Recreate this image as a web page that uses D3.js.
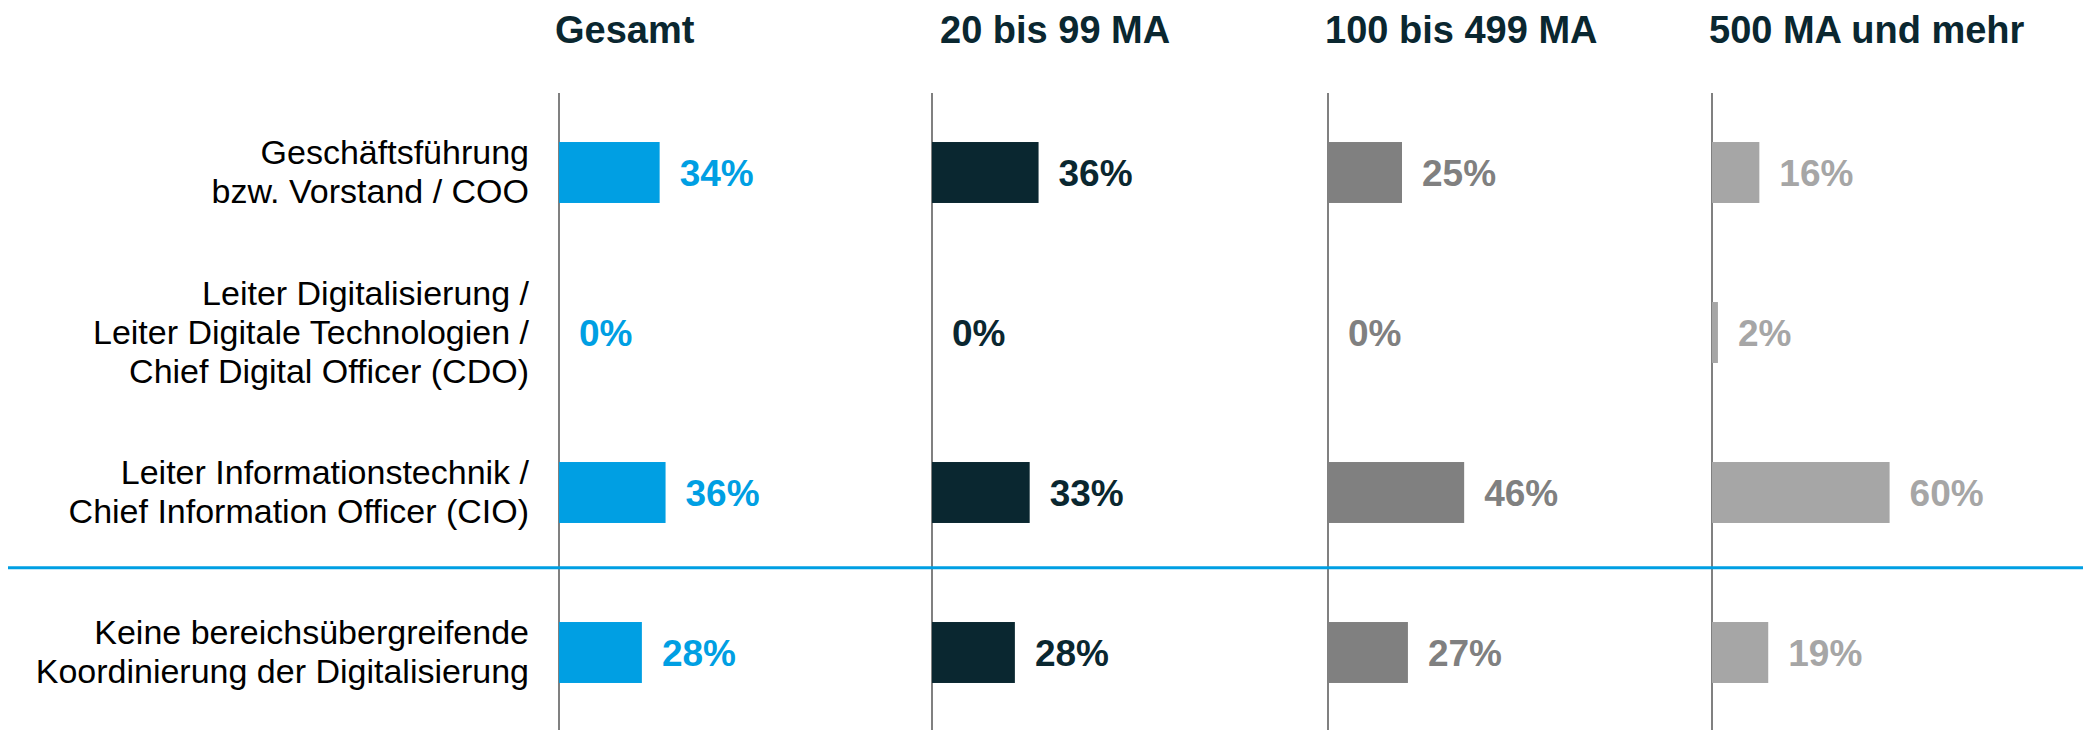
<!DOCTYPE html>
<html>
<head>
<meta charset="utf-8">
<script src="https://cdn.jsdelivr.net/npm/d3@7"></script>
<style>
  html, body { margin: 0; padding: 0; background: #fff; }
  svg { display: block; font-family: "Liberation Sans", Arial, sans-serif; }
</style>
</head>
<body>
<div id="main"></div>
<script>
const ctx = {
    w: 2083,
    h: 730,
};

// rows (label lines)
const categories = [
    ["Geschäftsführung", "bzw. Vorstand / COO"],
    ["Leiter Digitalisierung /", "Leiter Digitale Technologien /", "Chief Digital Officer (CDO)"],
    ["Leiter Informationstechnik /", "Chief Information Officer (CIO)"],
    ["Keine bereichsübergreifende", "Koordinierung der Digitalisierung"],
];

const groups = ["Gesamt", "20 bis 99 MA", "100 bis 499 MA", "500 MA und mehr"];

// percent values per group, same order as categories
const valGesamt = [34, 0, 36, 28];
const val20to99 = [36, 0, 33, 28];
const val100to499 = [25, 0, 46, 27];
const val500plus = [16, 2, 60, 19];

const groupColors = ["#009fe3", "#0a2730", "#808080", "#a6a6a6"];

function createChart(svg) {
    const series = [valGesamt, val20to99, val100to499, val500plus];
    const catIds = categories.map((c, i) => i);

    let x0 = d3.scaleOrdinal().domain(groups).range([559, 932, 1328, 1712]);
    let hx = d3.scaleOrdinal().domain(groups).range([555, 940, 1325, 1709]);
    let x = d3.scaleLinear().domain([0, 100]).range([0, 296]);
    let y = d3.scaleBand().domain(catIds).range([92.5, 732.5])
        .paddingInner(0.619).paddingOuter(0.3095);
    let color = d3.scaleOrdinal().domain(groups).range(groupColors);
    const mid = i => y(i) + y.bandwidth() / 2;

    // group headers
    svg.selectAll(".head")
        .data(groups)
        .enter().append("text")
        .attr("class", "head")
        .attr("x", d => hx(d))
        .attr("y", 43)
        .style("font-size", "38px")
        .style("font-weight", "bold")
        .style("fill", "#0a2730")
        .text(d => d);

    // vertical baselines
    svg.selectAll(".axis")
        .data(groups)
        .enter().append("line")
        .attr("class", "axis")
        .attr("x1", d => x0(d)).attr("x2", d => x0(d))
        .attr("y1", 93).attr("y2", ctx.h)
        .style("stroke", "#808080")
        .style("stroke-width", 2);

    // separator before last row
    let sepY = (mid(2) + mid(3)) / 2 - 4.7;
    svg.append("line")
        .attr("x1", 8).attr("x2", ctx.w)
        .attr("y1", sepY).attr("y2", sepY)
        .style("stroke", "#009fe3")
        .style("stroke-width", 3);

    // category labels
    let lab = svg.selectAll(".cat")
        .data(categories)
        .enter().append("text")
        .attr("class", "cat")
        .attr("text-anchor", "end")
        .style("font-size", "34px")
        .style("fill", "#000");
    lab.selectAll("tspan")
        .data((d, i) => d.map((t, k) => ({t: t, k: k, n: d.length, i: i})))
        .enter().append("tspan")
        .attr("x", 529)
        .attr("y", d => mid(d.i) - (d.n - 1) * 39 / 2 + d.k * 39 + 11)
        .text(d => d.t);

    // bars + values
    groups.forEach((g, gi) => {
        let rows = series[gi].map((v, i) => ({v: v, i: i}));
        let grp = svg.append("g").attr("transform", "translate(" + x0(g) + ",0)");

        grp.selectAll("rect")
            .data(rows)
            .enter().append("rect")
            .attr("x", 0)
            .attr("y", d => y(d.i))
            .attr("width", d => x(d.v))
            .attr("height", y.bandwidth())
            .style("fill", color(g));

        grp.selectAll(".val")
            .data(rows)
            .enter().append("text")
            .attr("class", "val")
            .attr("x", d => x(d.v) + 20)
            .attr("y", d => mid(d.i) + 13.5)
            .style("font-size", "37px")
            .style("font-weight", "bold")
            .style("fill", color(g))
            .text(d => d.v + "%");
    });
}

function createViz() {
    let svgEl = d3.select("#main").append("svg");
    svgEl.attr("width", ctx.w);
    svgEl.attr("height", ctx.h);
    createChart(svgEl);
}

createViz();
</script>
</body>
</html>
